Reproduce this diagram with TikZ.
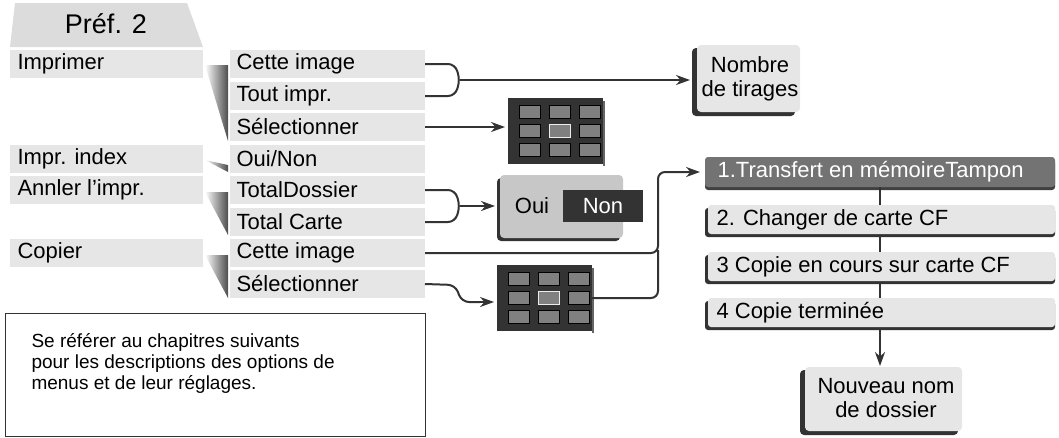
\documentclass[tikz,border=0pt]{standalone}
\usepackage{fontspec}
\setmainfont{Liberation Sans}
\usetikzlibrary{arrows.meta,shadings}
\definecolor{item}{HTML}{E6E6E6}
\definecolor{dk}{HTML}{333333}
\begin{document}
\begin{tikzpicture}[x=1pt,y=-1pt,
  every node/.style={font=\fontsize{22}{23}\selectfont},
  con/.style={draw=dk,line width=2pt,rounded corners=7pt},
  arr/.style={con,-{Stealth[length=14pt,width=10pt]}},
  wedge/.style={left color=white,right color=black!70},
  box/.style={fill=item,rounded corners=4pt}]
\useasboundingbox (0,0) rectangle (1059,437);
% Pref 2
\fill[item!90!gray] (15,3)--(187,3)--(203,47)--(10,47)--cycle;
\node[font=\fontsize{27}{28}\selectfont] (pref) at (106,24) {Préf. 2};
% left items
\foreach \n/\y/\t in {imp/50/Imprimer,idx/145/Impr. index,ann/176/Annler l’impr.,cop/239/Copier}{
  \fill[item] (10,\y) rectangle (203,\y+28);
  \node[anchor=west] (\n) at (14,\y+14) {\t};}
% right items
\foreach \n/\y/\t in {r1/50/Cette image,r2/82/Tout impr.,r3/113/Sélectionner,r4/145/{Oui/Non},r5/176/TotalDossier,r6/208/Total Carte,r7/239/Cette image,r8/270/Sélectionner}{
  \fill[item] (230,\y) rectangle (425,\y+28);
  \coordinate (\n e) at (425,\y+14);
  \node[anchor=west] (\n) at (233,\y+14) {\t};}
% wedges
\shade[wedge] (205,65)--(228,65)--(228,141)--cycle;
\shade[wedge] (205,160)--(228,165)--(228,172)--cycle;
\shade[wedge] (205,192)--(228,192)--(228,235)--cycle;
\shade[wedge] (205,255)--(228,255)--(228,298)--cycle;
% grids
\foreach \g/\x/\y in {g1/508/98,g2/497/265}{
  \fill[dk] (\x,\y) rectangle (\x+95,\y+66);
  \fill[black!60] (\x+95,\y+3) rectangle (\x+97,\y+68);
  \coordinate (\g w) at (\x,\y+33);
  \coordinate (\g e) at (\x+95,\y+33);
  \foreach \i in {0,1,2}{\foreach \j in {0,1,2}{
    \fill[black!50,draw=black] (\x+11+\i*30,\y+7+\j*19) rectangle (\x+32+\i*30,\y+20+\j*19);}}
  \draw[white!85!gray,line width=1pt,fill=black!50] (\x+41,\y+26) rectangle (\x+62,\y+39);
}
% Nombre box
\fill[dk,rounded corners=4pt] (692,48) rectangle (795,116);
\fill[box] (697,45) rectangle (800,112);
\node[align=center,font=\fontsize{22}{24}\selectfont] (nb) at (750,79) {Nombre\\de tirages};
% Oui Non box
\fill[dk,rounded corners=4pt] (497,178) rectangle (620,241);
\fill[box,fill=black!22] (500,175) rectangle (623,238);
\fill[dk] (563,190) rectangle (643,222);
\node (oui) at (532,206) {Oui};
\node[text=white] (non) at (603,206) {Non};
% right stack
\fill[black!75,rounded corners=3pt] (705,160) rectangle (1055,190);
\fill[black!55,rounded corners=3pt] (705,157) rectangle (1055,187);
\node[anchor=west,text=white,font=\fontsize{22}{23}\selectfont] (s1) at (714,172) {1.Transfert en mémoireTampon};
\foreach \n/\y/\t in {s2/205/2. Changer de carte CF,s3/252/3 Copie en cours sur carte CF,s4/298/4 Copie terminée}{
  \fill[dk,rounded corners=3pt] (705,\y+3) rectangle (1055,\y+32);
  \fill[item,rounded corners=3pt] (708,\y) rectangle (1055,\y+29);
  \node[anchor=west] (\n) at (713,\y+15) {\t};}
\foreach \a/\b in {187/205,237/252,283/298}{\draw[dk,line width=2pt] (880,\a)--(880,\b);}
% Nouveau
\fill[dk,rounded corners=4pt] (800,370) rectangle (958,435);
\fill[box] (805,367) rectangle (962,431);
\node[align=center,font=\fontsize{22}{24}\selectfont] (nn) at (886,398) {Nouveau nom\\de dossier};
\draw[arr] (880,330)--(880,366);
% connectors
\draw[con] (r1e)--(455,64)--(460,80)--(455,96)--(r2e);
\draw[arr] (460,80)--(690,80);
\draw[arr] (r3e)--(505,127);
\draw[con] (r5e)--(455,190)--(460,206)--(455,222)--(r6e);
\draw[arr] (460,206)--(495,206);
\draw[con] (r8e)--(455,285)--(462,302)--(480,302);
\draw[arr] (470,302)--(494,302);
\draw[arr] (r7e)--(658,253)--(658,172)--(700,172);
\draw[con] (g2e)--(658,298)--(658,250);
% note box
\draw[dk,line width=1pt] (5,313) rectangle (425,436);
\node[anchor=north west,align=left,font=\fontsize{19}{21}\selectfont] (note) at (28,330) {Se référer au chapitres suivants\\pour les descriptions des options de\\menus et de leur réglages.};
\end{tikzpicture}
\end{document}
